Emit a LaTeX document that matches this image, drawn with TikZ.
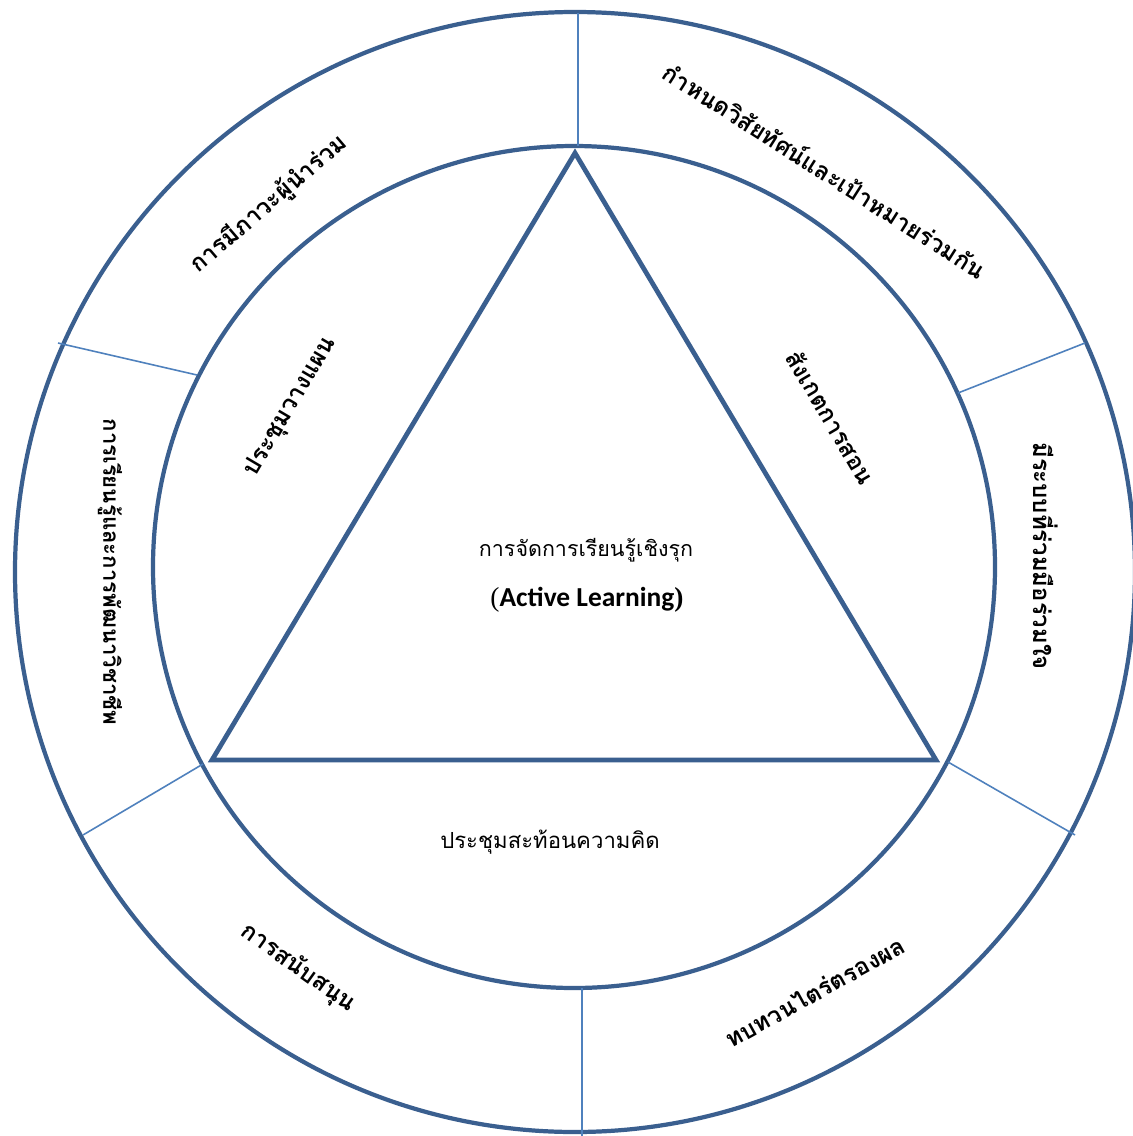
\documentclass[tikz,border=0pt]{standalone}
\usepackage{fontspec}
\newfontfamily\thaifont[Script=Thai]{Loma}
\newfontfamily\calibrifont{Carlito}
\newfontfamily\timesfont{Liberation Serif}
\definecolor{ringblue}{HTML}{3A5F8F}
\definecolor{lineblue}{HTML}{4F81BD}

\begin{document}
\begin{tikzpicture}[x=0.01cm,y=-0.01cm,
    ring/.style={draw=ringblue,line width=1.2pt},
    divider/.style={draw=lineblue,line width=0.45pt},
    boldlabel/.style={font=\thaifont\bfseries\fontsize{6.8}{9}\selectfont,inner sep=0pt},
    plainlabel/.style={font=\thaifont\fontsize{6.3}{9}\selectfont,inner sep=0pt}]
    \useasboundingbox (0,0) rectangle (1133,1136);
    \fill[white] (0,0) rectangle (1133,1136);
    % rings and triangle
    \draw[ring] (575,572) circle[radius=560];
    \draw[ring] (574,567) circle[radius=421];
    \draw[ring,line width=1.35pt,line join=miter]
      (575,153) coordinate (apex) -- (936,760) coordinate (right)
      -- (212,760) coordinate (left) -- cycle;
    % dividers between the outer sectors
    \draw[divider] (578,13) -- (578,146);
    \draw[divider] (958,393) -- (1085,343);
    \draw[divider] (948,762) -- (1075,835);
    \draw[divider] (582,988) -- (582,1136);
    \draw[divider] (203,764) -- (83,835);
    \draw[divider] (197,375) -- (58,343);
    % outer sectors
    \node[boldlabel,rotate=40.5] (leadership) at (269,204) {การมีภาวะผู้นำร่วม};
    \node[boldlabel,rotate=-32.5] (vision) at (825,170) {กำหนดวิสัยทัศน์และเป้าหมายร่วมกัน};
    \node[boldlabel,rotate=-90] (system) at (1046,556) {มีระบบที่ร่วมมือร่วมใจ};
    \node[boldlabel,rotate=-90,font=\thaifont\bfseries\fontsize{6.3}{9}\selectfont]
      (career) at (110,572) {การเรียนรู้และการพัฒนาวิชาชีพ};
    \node[boldlabel,rotate=-35.5] (support) at (298,968) {การสนับสนุน};
    \node[boldlabel,rotate=29] (review) at (815,992) {ทบทวนไตร่ตรองผล};
    % inner ring
    \node[boldlabel,rotate=59.5] (planning) at (291,407) {ประชุมวางแผน};
    \node[boldlabel,rotate=-59.5] (observe) at (831,417) {สังเกตการสอน};
    \node[plainlabel] (reflect) at (550,842) {ประชุมสะท้อนความคิด};
    % centre
    \node[plainlabel,font=\thaifont\fontsize{6.1}{9}\selectfont] (active) at (586,550) {การจัดการเรียนรู้เชิงรุก};
    \node[inner sep=0pt,font=\fontsize{7.8}{10}\selectfont] (english) at (587,600)
      {\timesfont(\calibrifont\bfseries Active Learning\timesfont)};
\end{tikzpicture}
\end{document}
